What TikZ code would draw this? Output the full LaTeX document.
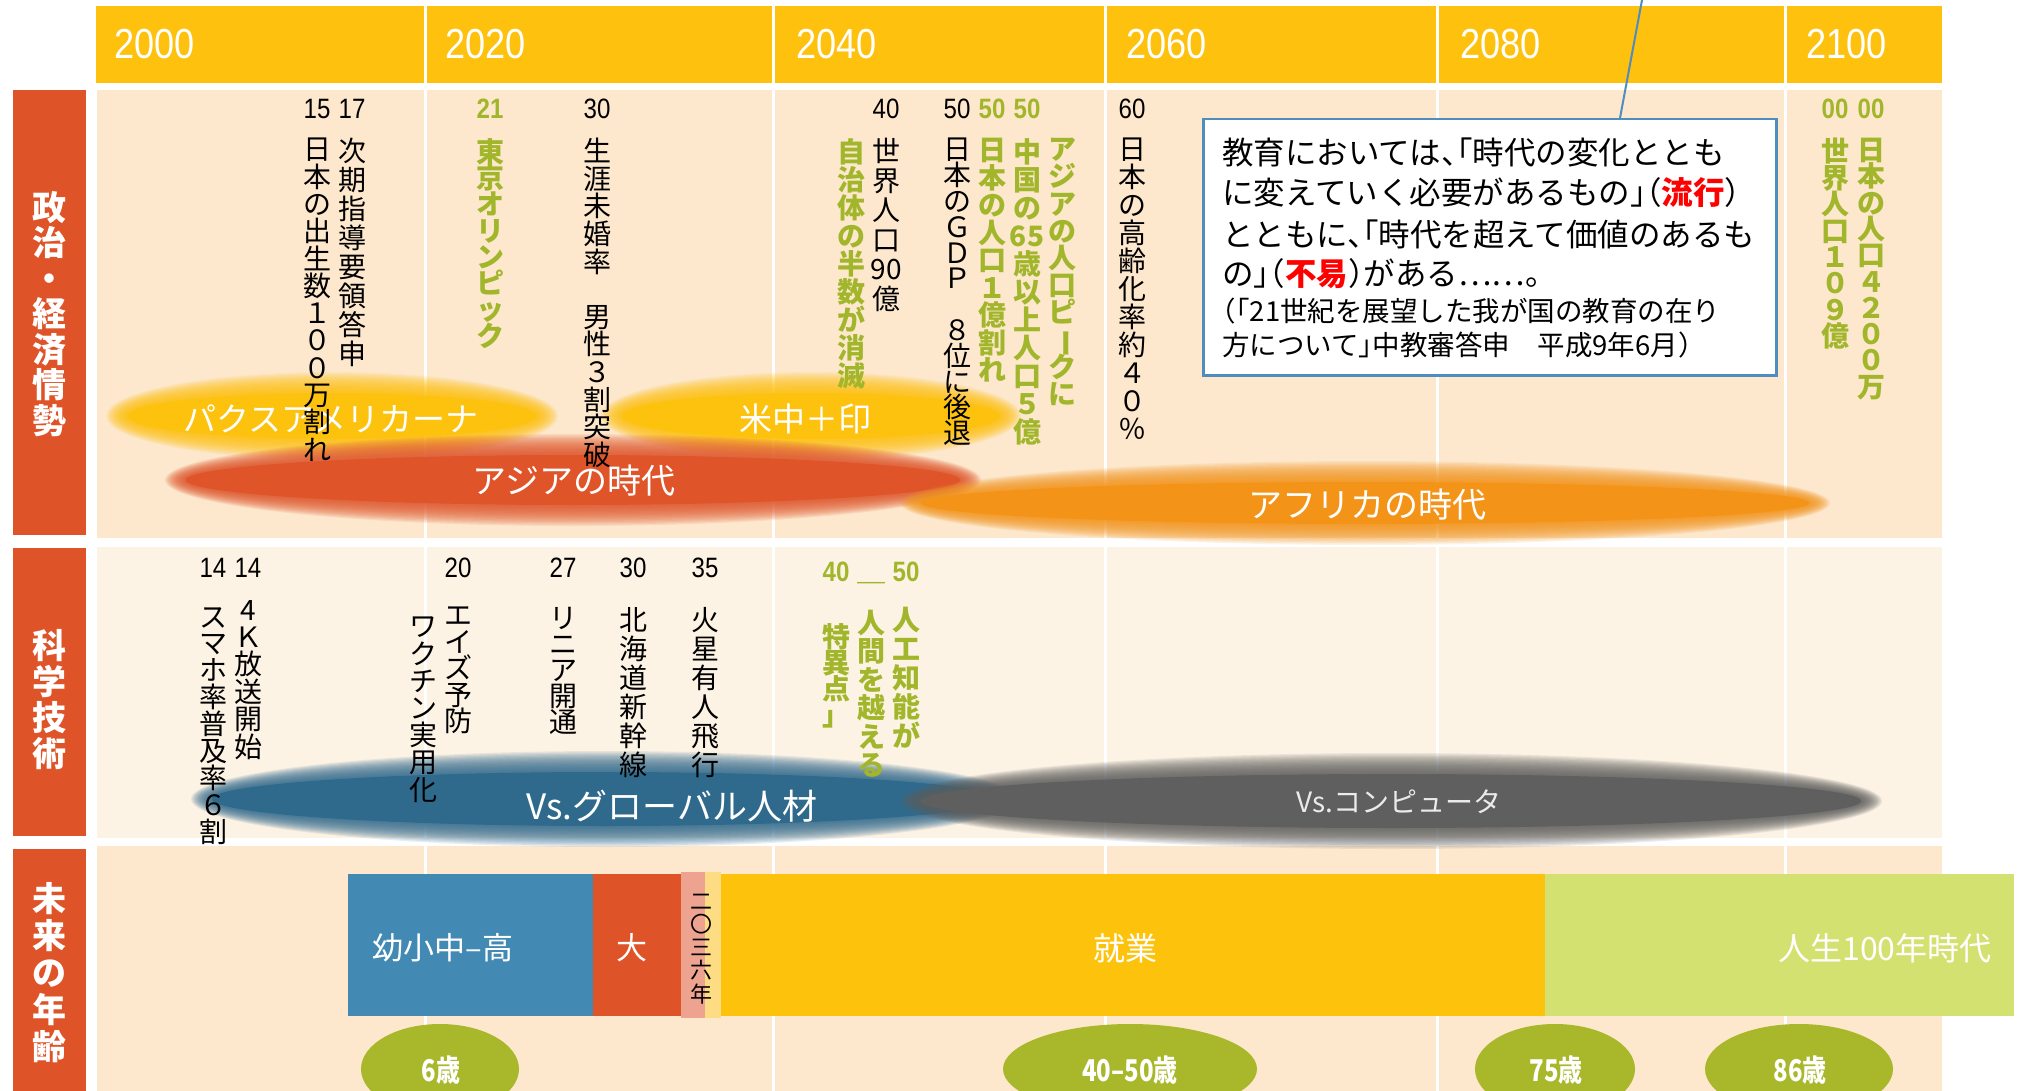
\documentclass[tikz,border=0pt]{standalone}
\usepackage{fontspec}
\setmainfont{Liberation Sans}
\newfontfamily\jp{Noto Sans CJK JP}
\newfontfamily\jph{Noto Sans CJK JP}[RawFeature=+halt]
\newfontfamily\lib{Liberation Sans}

\definecolor{hdr}{HTML}{FDC10E}
\definecolor{rowbg}{HTML}{FDE8CD}
\definecolor{rowbgb}{HTML}{FDF3E5}
\definecolor{labred}{HTML}{DF5328}
\definecolor{olive}{HTML}{A2B62C}
\definecolor{ageg}{HTML}{A8B82A}
\definecolor{schb}{HTML}{428AB3}
\definecolor{worky}{HTML}{FDC30C}
\definecolor{lifeg}{HTML}{D3E170}
\definecolor{pinkc}{HTML}{EEA290}
\definecolor{paley}{HTML}{FDDC84}
\definecolor{elly}{HTML}{FCC20E}
\definecolor{ellr}{HTML}{E0542A}
\definecolor{ello}{HTML}{F39419}
\definecolor{ellb}{HTML}{2F6A8D}
\definecolor{ellg}{HTML}{5F5F5F}
\definecolor{boxb}{HTML}{4E8DBE}

\makeatletter
\def\vst@ck#1#2\@nil{\hbox to 0pt{\hss#1\hss}\if\relax\detokenize{#2}\relax\else\vst@ck#2\@nil\fi}
\newcommand\vstack[2][27.4pt]{\vbox{\baselineskip=#1\relax\lineskiplimit=-\maxdimen\lineskip=0pt\vst@ck#2\@nil}}
\makeatother
\newcommand\cnd[2][0.86]{\scalebox{#1}[1]{#2}}
\newcommand\vb{\rotatebox[origin=c]{-90}{ー}}
\newcommand\softell[5]{%
  \foreach \k in {0,...,15}{\fill[#1,opacity=0.11] (#2,#3) ellipse [x radius={(#4-\k*1.3)*1pt}, y radius={(#5-\k*1.3)*1pt}];}%
  \fill[#1] (#2,#3) ellipse [x radius={(#4-21)*1pt}, y radius={(#5-21)*1pt}];}

\tikzset{
 num/.style={font=\lib\fontsize{28}{28}\selectfont, inner sep=0, text=black},
 gnum/.style={inner sep=0, font=\lib\bfseries\fontsize{28}{28}\selectfont, text=olive},
 vt/.style={font=\jp\fontsize{28}{28}\selectfont, inner sep=0, anchor=north, text=black},
 gvt/.style={font=\jp\bfseries\fontsize{28}{28}\selectfont, inner sep=0, anchor=north, text=olive},
 year/.style={font=\lib\fontsize{42}{42}\selectfont, text=white, inner sep=0, anchor=west},
 lab/.style={font=\jp\bfseries\fontsize{34}{34}\selectfont, text=white, inner sep=0},
 elltxt/.style={font=\jp\fontsize{33}{33}\selectfont, text=white, inner sep=0},
 bartxt/.style={font=\jp\fontsize{31}{31}\selectfont, text=white, inner sep=0},
 agetxt/.style={font=\jp\bfseries\fontsize{30}{30}\selectfont, text=white, inner sep=0},
 qline/.style={font=\jph\fontsize{31.5}{31.5}\selectfont, anchor=west, inner sep=0, text=black},
 qsmall/.style={font=\jph\fontsize{27.5}{27.5}\selectfont, anchor=west, inner sep=0, text=black},
}

\begin{document}
\begin{tikzpicture}[x=1pt,y=-1pt]
\useasboundingbox (0,0) rectangle (2020,1091);
\fill[white] (0,0) rectangle (2020,1091);

% header
\fill[hdr] (96,6) rectangle (1942,83);
% rows
\fill[rowbg] (97,90) rectangle (1942,538);
\fill[rowbgb] (97,547) rectangle (1942,838);
\fill[rowbg] (97,846) rectangle (1942,1091);
% column lines
\foreach \x in {425,773,1105,1437,1785} \draw[white, line width=3pt] (\x,6) -- (\x,1091);

% year labels
\node[year] (y2000) at (114,44) {\cnd{2000}};
\node[year] (y2020) at (445,44) {\cnd{2020}};
\node[year] (y2040) at (796,44) {\cnd{2040}};
\node[year] (y2060) at (1126,44) {\cnd{2060}};
\node[year] (y2080) at (1460,44) {\cnd{2080}};
\node[year] (y2100) at (1806,44) {\cnd{2100}};

% row labels
\fill[labred] (13,90) rectangle (86,535);
\fill[labred] (13,548) rectangle (86,836);
\fill[labred] (13,849) rectangle (86,1091);
\node[lab] (lab1) at (49.5,314) {\vstack[35.5pt]{政治・経済情勢}};
\node[lab] (lab2) at (49.5,700) {\vstack[36pt]{科学技術}};
\node[lab] (lab3) at (49.5,973) {\vstack[37pt]{未来の年齢}};

% soft bands row 1
\softell{elly}{332}{416}{226}{44}
\softell{elly}{811}{416}{210}{44}
\softell{ellr}{573}{480}{408}{46}
\softell{ello}{1365}{503}{465}{42}
\node[elltxt] (pax) at (331,419) {パクスアメリカーナ};
\node[elltxt] (usci) at (805,419) {米中＋印};
\node[elltxt, font=\jp\fontsize{34}{34}\selectfont] (asia) at (574,481) {アジアの時代};
\node[elltxt, font=\jp\fontsize{34}{34}\selectfont] (afr) at (1367,505) {アフリカの時代};

% soft bands row 2
\softell{ellb}{605}{799}{414}{48}
\softell{ellg}{1391}{801}{491}{48}
\node[elltxt, font=\jp\fontsize{35}{35}\selectfont] (glob) at (672,806) {Vs.グローバル人材};
\node[elltxt, font=\jp\fontsize{28}{28}\selectfont, text=white!92!black] (comp) at (1399,802) {Vs.コンピュータ};

% row 1 numbers
\node[num] (n15) at (317,109) {\cnd{15}};
\node[num] (n17) at (352,109) {\cnd{17}};
\node[gnum] (n21) at (490,109) {\cnd{21}};
\node[num] (n30) at (597,109) {\cnd{30}};
\node[num] (n40) at (886,109) {\cnd{40}};
\node[num] (n50a) at (957,109) {\cnd{50}};
\node[gnum] (n50b) at (992,109) {\cnd{50}};
\node[gnum] (n50c) at (1027,109) {\cnd{50}};
\node[num] (n60) at (1132,109) {\cnd{60}};
\node[gnum] (n00a) at (1835,109) {\cnd{00}};
\node[gnum] (n00b) at (1871,109) {\cnd{00}};

% row 1 vertical texts
\node[vt] (t15) at (317,138) {\vstack[27.3pt]{日本の出生数１００万割れ}};
\node[vt] (t17) at (352,138) {\vstack[29pt]{次期指導要領答申}};
\node[gvt] (t21) at (490,138) {\vstack[26.3pt]{東京オリンピック}};
\node[vt] (t30) at (597,138) {\vstack[27.6pt]{生涯未婚率　男性３割突破}};
\node[gvt] (tjichi) at (851,138) {\vstack[28.1pt]{自治体の半数が消滅}};
\node[vt] (t40) at (886,138) {\vstack[29.6pt]{世界人口{90}億}};
\node[vt] (t50a) at (957,138) {\vstack[25.8pt]{日本のＧＤＰ　８位に後退}};
\node[gvt] (t50b) at (992,138) {\vstack[27.5pt]{日本の人口１億割れ}};
\node[gvt] (t50c) at (1027,138) {\vstack[28pt]{中国の{65}歳以上人口５億}};
\node[gvt] (tasia) at (1062,138) {\vstack[27.2pt]{アジアの人口ピ\vb クに}};
\node[vt] (t60) at (1132,138) {\vstack[28pt]{日本の高齢化率約４０％}};
\node[gvt] (t00a) at (1835,138) {\vstack[26.4pt]{世界人口１０９億}};
\node[gvt] (t00b) at (1871,138) {\vstack[26.3pt]{日本の人口４２００万}};

% row 2 numbers
\node[num] (m14a) at (213,568) {\cnd{14}};
\node[num] (m14b) at (248,568) {\cnd{14}};
\node[num] (m20) at (458,568) {\cnd{20}};
\node[num] (m27) at (563,568) {\cnd{27}};
\node[num] (m30) at (633,568) {\cnd{30}};
\node[num] (m35) at (705,568) {\cnd{35}};
\node[gnum] (m40) at (836,572) {\cnd{40}};
\node[gnum, font=\jp\bfseries\fontsize{28}{28}\selectfont] (mdash) at (871,582) {＿};
\node[gnum] (m50) at (906,572) {\cnd{50}};

% row 2 vertical texts
\node[vt] (s14a) at (213,607) {\vstack[26.9pt]{スマホ率普及率６割}};
\node[vt] (s14b) at (248,600) {\vstack[27.4pt]{4Ｋ放送開始}};
\node[vt] (s20b) at (423,617) {\vstack[27.2pt]{ワクチン実用化}};
\node[vt] (s20) at (458,607) {\vstack[26.5pt]{エイズ予防}};
\node[vt] (s27) at (563,607) {\vstack[26pt]{リニア開通}};
\node[vt] (s30) at (633,607) {\vstack[29pt]{北海道新幹線}};
\node[vt] (s35) at (705,607) {\vstack[29pt]{火星有人飛行}};
\node[gvt] (s40) at (836,623) {\vstack[26pt]{特異点」}};
\node[gvt] (s45) at (871,610) {\vstack[28.4pt]{人間を越える}};
\node[gvt] (s50) at (906,607) {\vstack[29pt]{人工知能が}};

% row 3 bars
\fill[schb] (348,874) rectangle (593,1016);
\fill[labred] (593,874) rectangle (681,1016);
\fill[pinkc] (681,872) rectangle (705,1018);
\fill[paley] (705,872) rectangle (721,1018);
\fill[worky] (721,874) rectangle (1545,1016);
\fill[lifeg] (1545,874) rectangle (2014,1016);
\node[bartxt] (school) at (443,948) {幼小中–高};
\node[bartxt] (univ) at (632,948) {大};
\node[font=\jp\fontsize{22}{22}\selectfont, inner sep=0, text=black] (y2036) at (701,949) {\vstack[23.2pt]{二〇三六年}};
\node[bartxt, font=\jp\fontsize{32}{32}\selectfont] (work) at (1125,948) {就業};
\node[bartxt, font=\jp\fontsize{32}{32}\selectfont] (life) at (1885,948) {人生100年時代};

% age ellipses
\fill[ageg] (440,1069) ellipse [x radius=79pt, y radius=45pt];
\fill[ageg] (1130,1069) ellipse [x radius=127pt, y radius=45pt];
\fill[ageg] (1555,1069) ellipse [x radius=80pt, y radius=45pt];
\fill[ageg] (1799,1069) ellipse [x radius=94pt, y radius=45pt];
\node[agetxt] (a6) at (441,1070) {\cnd[0.8]{6歳}};
\node[agetxt] (a40) at (1130,1070) {\cnd[0.8]{40–50歳}};
\node[agetxt] (a75) at (1556,1070) {\cnd[0.8]{75歳}};
\node[agetxt] (a86) at (1800,1070) {\cnd[0.8]{86歳}};

% quote box
\node[draw=boxb, line width=2.5pt, fill=white, minimum width=573pt, minimum height=256pt, anchor=north west, inner sep=0] (quote) at (1202,118) {};
\coordinate (topend) at (1642,0);
\draw[boxb, line width=2pt] (quote.north west) ++(418,0) -- (topend);
\node[qline] (q1) at (1222,152) {教育においては、「時代の変化ととも};
\node[qline] (q2) at (1222,193) {に変えていく必要があるもの」（{\color{red}\bfseries 流行}）};
\node[qline] (q3) at (1222,234) {とともに、「時代を超えて価値のあるも};
\node[qline] (q4) at (1222,274) {の」（{\color{red}\bfseries 不易}）がある……。};
\node[qsmall] (q5) at (1222,311) {（「21世紀を展望した我が国の教育の在り};
\node[qsmall] (q6) at (1222,345) {方について」中教審答申　平成9年6月）};
\end{tikzpicture}
\end{document}
